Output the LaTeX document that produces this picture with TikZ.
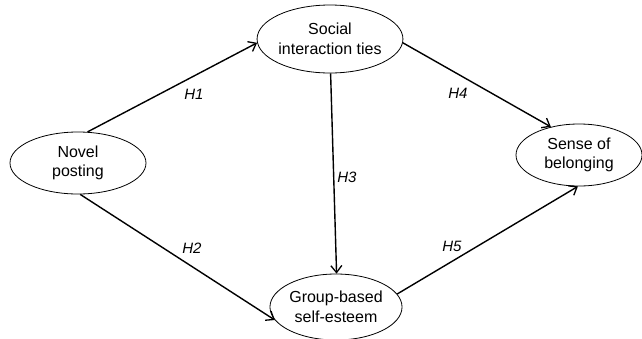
\documentclass[tikz,border=0pt]{standalone}
\usepackage{fontspec}
\setmainfont{Liberation Sans}
\usetikzlibrary{arrows.meta,shapes.geometric}
\begin{document}
\begin{tikzpicture}[x=1pt,y=-1pt,
  ell/.style={ellipse,draw,line width=0.8pt,inner sep=0pt,align=center,font=\fontsize{16}{19.5}\selectfont},
  arr/.style={line width=1.4pt,-{Straight Barb[length=7pt,width=11pt,line width=1.3pt]}},
  hlab/.style={font=\fontsize{15}{17}\selectfont\itshape}]
\useasboundingbox (0,0) rectangle (642,338);
\node[ell,minimum width=136pt,minimum height=62pt] (novel) at (78,163) {Novel\\posting};
\node[ell,minimum width=138pt,minimum height=68pt] (social) at (330,39) {Social\\interaction ties};
\node[ell,minimum width=132pt,minimum height=66pt] (group) at (336,307) {Group-based\\self-esteem};
\node[ell,minimum width=126pt,minimum height=62pt] (sense) at (579,155) {Sense of\\belonging};
\draw[arr] (novel.73) -- (social.183);
\draw[arr] (novel.-86) -- (group.192);
\draw[arr] (social.-3) -- (sense.135);
\draw[arr] (social.-89) -- (group.89);
\draw[arr] (group.12) -- (sense.-92);
\node[hlab] (h1) at (194,94) {H1};
\node[hlab] (h2) at (192,248) {H2};
\node[hlab] (h3) at (347,177) {H3};
\node[hlab] (h4) at (458,93) {H4};
\node[hlab] (h5) at (452,246) {H5};
\end{tikzpicture}
\end{document}
